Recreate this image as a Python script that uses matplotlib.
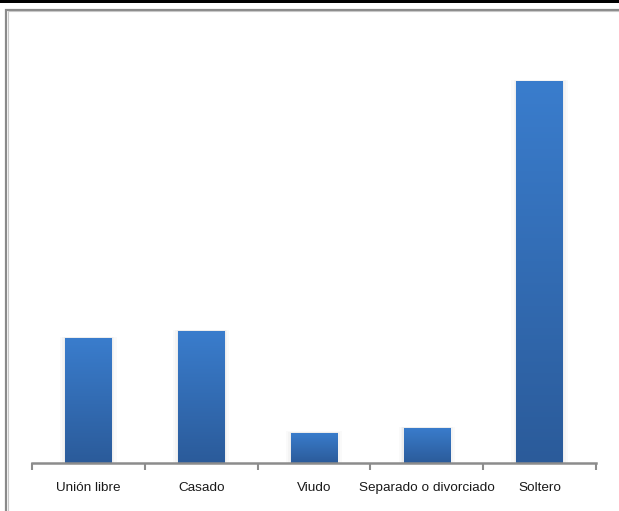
import matplotlib
matplotlib.use("Agg")
import matplotlib.pyplot as plt
import numpy as np
from matplotlib.patches import Rectangle
from matplotlib.colors import LinearSegmentedColormap

categories = ["Unión libre", "Casado", "Viudo", "Separado o divorciado", "Soltero"]
values = [17.8, 18.8, 4.3, 5.0, 54.3]

fig = plt.figure(figsize=(6.19, 5.11), dpi=100)
W, H = 619, 511

# top black band and gray frame
fig.patches.append(Rectangle((0, 1 - 3 / H), 1, 3 / H, transform=fig.transFigure,
                             facecolor="black", edgecolor="none", zorder=0))
fig.patches.append(Rectangle((5.5 / W, -0.1), 1.2, 1 - 9.5 / H + 0.1, transform=fig.transFigure,
                             facecolor="none", edgecolor="#8a8a8a", linewidth=1.6, zorder=0))
fig.patches.append(Rectangle((7.5 / W, -0.1), 1.2, 1 - 11.5 / H + 0.1, transform=fig.transFigure,
                             facecolor="none", edgecolor="#c8c8c8", linewidth=0.8, zorder=0))

ax = fig.add_axes([32 / W, (511 - 463) / H, 564 / W, 422 / H])
ax.set_xlim(-0.5, 4.5)
ax.set_ylim(0, 60)

x = np.arange(len(categories))
bw = 0.41
cmap = LinearSegmentedColormap.from_list("g", ["#2b5b9a", "#3a7dcd"])
grad = np.linspace(0, 1, 256).reshape(-1, 1)
bars = ax.bar(x, values, width=bw, color="none", edgecolor="none", zorder=2)
for b in bars:
    bx, by, bwid, bh = b.get_x(), b.get_y(), b.get_width(), b.get_height()
    # soft shadow
    for k, a in [(0.045, 0.04), (0.025, 0.05), (0.012, 0.06)]:
        ax.add_patch(Rectangle((bx - k, by), bwid + 2 * k, bh + k * 4, facecolor="#888888",
                               edgecolor="none", alpha=a, zorder=1))
    im = ax.imshow(grad, extent=(bx, bx + bwid, by, by + bh), origin="lower", cmap=cmap,
                   aspect="auto", zorder=2, interpolation="bicubic")
    im.set_clip_path(b)
ax.set_xlim(-0.5, 4.5)
ax.set_ylim(0, 60)

for s in ["top", "right", "left"]:
    ax.spines[s].set_visible(False)
ax.spines["bottom"].set_color("#8c8c8c")
ax.spines["bottom"].set_linewidth(1.8)
ax.spines["bottom"].set_zorder(3)
ax.set_yticks([])
ax.set_xticks(np.arange(-0.5, 5, 1))
ax.set_xticklabels([])
ax.tick_params(axis="x", length=5, width=1.5, color="#8c8c8c")
for xi, c in zip(x, categories):
    ax.text(xi, -3.55, c, ha="center", va="center", fontsize=9.7,
            family=["Liberation Sans", "DejaVu Sans"], color="#1a1a1a")

fig.savefig("out.png", dpi=100)
